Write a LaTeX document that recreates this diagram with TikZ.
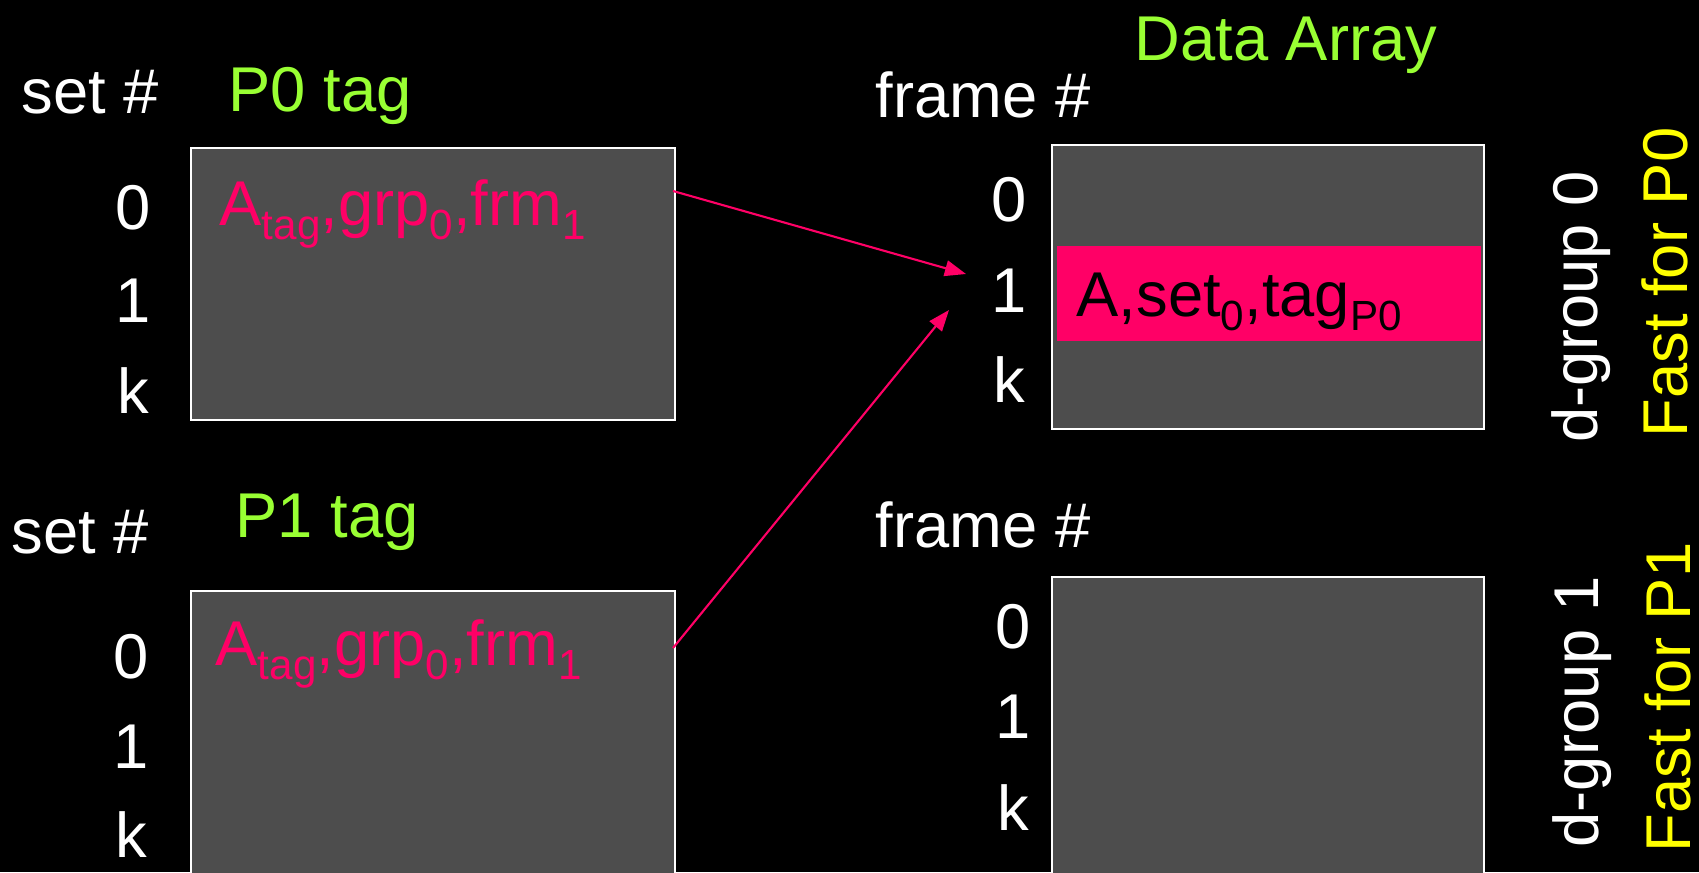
\documentclass[tikz,border=0pt]{standalone}
\usepackage{fontspec}
\setmainfont{Liberation Sans}
\usetikzlibrary{arrows.meta}
\definecolor{tagpink}{RGB}{255,0,102}
\definecolor{cellgray}{RGB}{77,77,77}
\definecolor{hdrgreen}{RGB}{153,255,51}
\definecolor{fastyellow}{RGB}{255,255,0}
\newcommand{\sbs}[1]{\raisebox{-4pt}{\fontsize{12}{12}\selectfont #1}}

\begin{document}
\begin{tikzpicture}[x=0.01cm,y=-0.01cm]
\tikzstyle{every node}+=[inner sep=0pt, font=\fontsize{18}{21}\selectfont]
\tikzstyle{txt}=[white, anchor=base]
\tikzstyle{hdr}=[hdrgreen, anchor=base west]
\tikzstyle{cell}=[draw=white, line width=0.6pt, fill=cellgray, anchor=north west]
\tikzstyle{entry}=[tagpink, anchor=base west]
\tikzstyle{ptr}=[tagpink, line width=0.6pt, -{Triangle[length=6pt,width=4.5pt]}]
\fill [black] (0,0) rectangle (1699,872);
\useasboundingbox (0,0) rectangle (1699,872);
\clip (0,0) rectangle (1699,872);
\node [txt, anchor=base west] (set0) at (21,113) {set \#};
\node [hdr] (p0tag) at (228,111) {P0 tag};
\node [cell, minimum width=4.84cm, minimum height=2.72cm] (p0box) at (190,147) {};
\node [txt] (s00) at (133,229) {0};
\node [txt] (s01) at (133,322) {1};
\node [txt] (s0k) at (133,413) {k};
\node [entry] (p0ent) at (219,225) {A\sbs{tag},grp\sbs{0},frm\sbs{1}};
\node [txt, anchor=base west] (set1) at (11,553) {set \#};
\node [hdr] (p1tag) at (235,537) {P1 tag};
\node [cell, minimum width=4.84cm, minimum height=3.0cm] (p1box) at (190,590) {};
\node [txt] (s10) at (131,678) {0};
\node [txt] (s11) at (131,768) {1};
\node [txt] (s1k) at (131,857) {k};
\node [entry] (p1ent) at (215,665) {A\sbs{tag},grp\sbs{0},frm\sbs{1}};
\node [hdr] (darr) at (1134,60) {Data Array};
\node [txt, anchor=base west] (fr0) at (875,117) {frame \#};
\node [cell, minimum width=4.32cm, minimum height=2.84cm] (d0box) at (1051,144) {};
\node [fill=tagpink, minimum width=4.24cm, minimum height=0.95cm, anchor=north west] (hit) at (1056,245) {};
\node [black, anchor=base west] (hitent) at (1076,316) {A,set\sbs{0},tag\sbs{P0}};
\node [txt] (f00) at (1009,221) {0};
\node [txt] (f01) at (1009,312) {1};
\node [txt] (f0k) at (1009,402) {k};
\node [txt, anchor=base west] (fr1) at (875,547) {frame \#};
\node [cell, minimum width=4.32cm, minimum height=3.1cm] (d1box) at (1051,576) {};
\node [txt] (f10) at (1013,648) {0};
\node [txt] (f11) at (1013,738) {1};
\node [txt] (f1k) at (1013,830) {k};
\node [txt, rotate=90, anchor=base west] (dg0) at (1597,443) {d-group 0};
\node [fastyellow, rotate=90, anchor=base west] (fast0) at (1687,438) {Fast for P0};
\node [txt, rotate=90, anchor=base west] (dg1) at (1598,848) {d-group 1};
\node [fastyellow, rotate=90, anchor=base west] (fast1) at (1690,853) {Fast for P1};
\coordinate (p0out) at (673,191);
\coordinate (p1out) at (673,648);
\coordinate (hit0) at (966,274);
\coordinate (hit1) at (949,310);
\draw [ptr] (p0out) -- (hit0);
\draw [ptr] (p1out) -- (hit1);
\end{tikzpicture}
\end{document}
